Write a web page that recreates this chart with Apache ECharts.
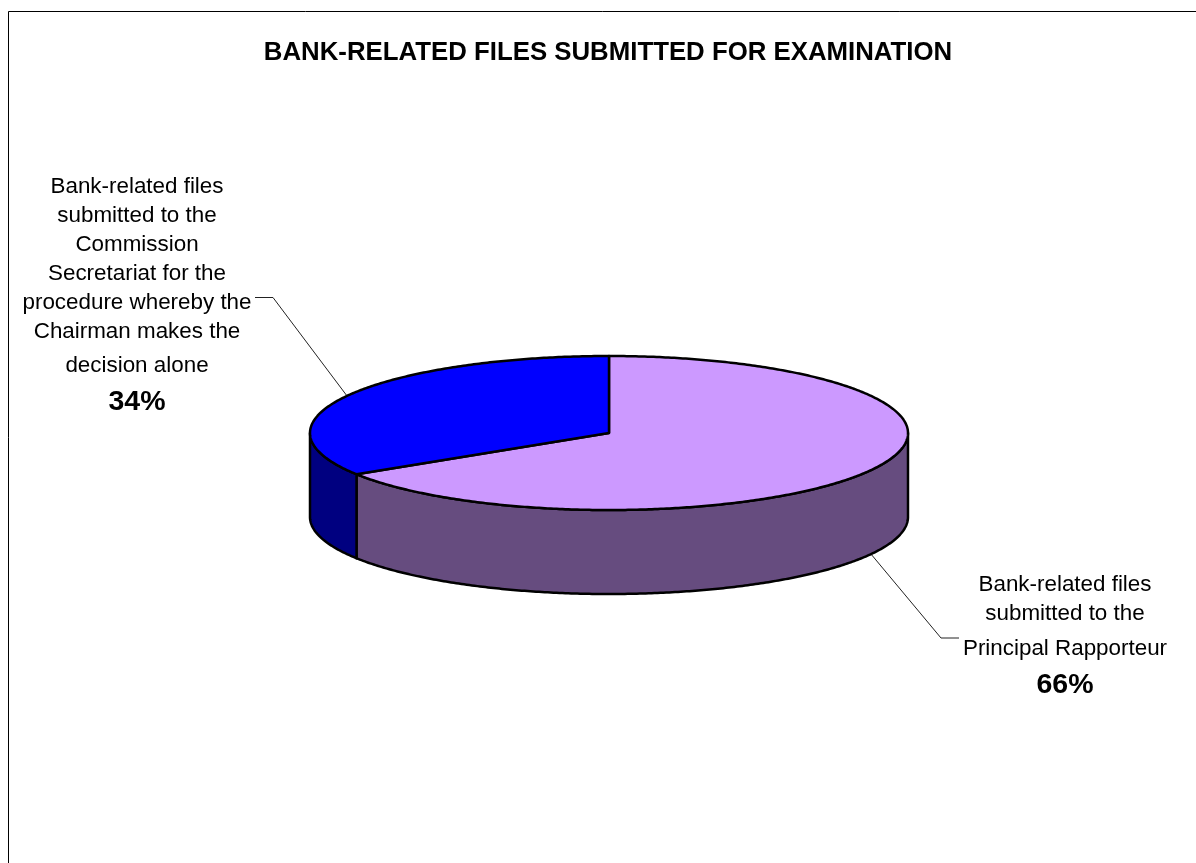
<!DOCTYPE html>
<html>
<head>
<meta charset="utf-8">
<title>Bank-related files submitted for examination</title>
<style>
  html, body { margin: 0; padding: 0; background: #fff; }
  #chart { width: 1196px; height: 863px; }
</style>
<script src="https://cdn.jsdelivr.net/npm/echarts@6/dist/echarts.min.js"></script>
</head>
<body>
<div id="chart"></div>
<script>
// Chart content
const chartTitle = 'BANK-RELATED FILES SUBMITTED FOR EXAMINATION';
const shares = [66, 34];
const categoryLines = [
  ['Bank-related files', 'submitted to the', 'Principal Rapporteur'],
  ['Bank-related files', 'submitted to the', 'Commission', 'Secretariat for the',
   'procedure whereby the', 'Chairman makes the', 'decision alone']
];
const topColors = ['#CC99FF', '#0000FF'];
const sideColors = ['#664C7F', '#000080'];

// Drawing geometry of the tilted disc and its callouts
const disc = { cx: 609, cy: 433, rx: 299, ry: 77, depth: 84 };
const labelBlocks = [
  { x: 1065, lineY: [585, 614, 649], percentY: 685, elbow: [941, 638], tail: 959, onSide: true },
  { x: 137, lineY: [187, 216, 245, 274, 303, 332, 366], percentY: 402, elbow: [273, 297.5], tail: 255, onSide: false }
];

const FONT = '"Liberation Sans", Arial, sans-serif';
const total = shares.reduce((a, b) => a + b, 0);

// Angles are measured clockwise from the back of the disc.
function rimPoint(angle, drop) {
  return [
    disc.cx + disc.rx * Math.sin(angle),
    disc.cy - disc.ry * Math.cos(angle) + drop
  ];
}

function arcPoints(from, to, drop) {
  const steps = Math.max(2, Math.ceil(Math.abs(to - from) / 0.01));
  const pts = [];
  for (let i = 0; i <= steps; i++) {
    pts.push(rimPoint(from + (to - from) * i / steps, drop));
  }
  return pts;
}

function renderSlice(params, api) {
  const i = params.dataIndex;
  const value = api.value(0);
  const before = shares.slice(0, i).reduce((a, b) => a + b, 0);
  const start = before / total * Math.PI * 2;
  const end = (before + value) / total * Math.PI * 2;
  const mid = (start + end) / 2;
  const children = [];
  const outline = { stroke: '#000', lineWidth: 2.5, lineJoin: 'round' };

  // Wall: only the part of the rim facing the viewer is visible.
  const wallFrom = Math.max(start, Math.PI / 2);
  const wallTo = Math.min(end, Math.PI * 1.5);
  if (wallTo > wallFrom) {
    const upper = arcPoints(wallFrom, wallTo, 0);
    const lower = arcPoints(wallTo, wallFrom, disc.depth);
    children.push({
      type: 'polygon',
      shape: { points: upper.concat(lower) },
      style: Object.assign({ fill: sideColors[i] }, outline)
    });
  }

  // Top face
  children.push({
    type: 'polygon',
    shape: { points: [[disc.cx, disc.cy]].concat(arcPoints(start, end, 0)) },
    style: Object.assign({ fill: topColors[i] }, outline)
  });

  // Leader line from the middle of the slice to its label
  const block = labelBlocks[i];
  children.push({
    type: 'polyline',
    z2: -1,
    shape: { points: [rimPoint(mid, block.onSide ? disc.depth : 0), block.elbow, [block.tail, block.elbow[1]]] },
    style: { stroke: '#222', lineWidth: 1, fill: null }
  });

  // Label lines and the percentage underneath
  categoryLines[i].forEach(function (line, n) {
    children.push({
      type: 'text',
      style: {
        text: line, x: block.x, y: block.lineY[n],
        align: 'center', verticalAlign: 'middle',
        font: '22.4px ' + FONT, fill: '#000'
      }
    });
  });
  children.push({
    type: 'text',
    style: {
      text: value + '%', x: block.x, y: block.percentY,
      align: 'center', verticalAlign: 'middle',
      font: 'bold 28.5px ' + FONT, fill: '#000'
    }
  });

  return { type: 'group', children: children };
}

const chart = echarts.init(document.getElementById('chart'), null, { renderer: 'canvas' });
chart.setOption({
  animation: false,
  backgroundColor: '#fff',
  title: {
    text: chartTitle,
    left: 603,
    top: 34.4,
    textAlign: 'center',
    textStyle: { fontFamily: FONT, fontSize: 25.8, fontWeight: 'bold', color: '#000' }
  },
  graphic: [{
    type: 'rect',
    silent: true,
    shape: { x: 8.5, y: 11.5, width: 1300, height: 1000 },
    style: { fill: null, stroke: '#000', lineWidth: 1 }
  }],
  series: [{
    type: 'custom',
    coordinateSystem: 'none',
    silent: true,
    data: shares,
    renderItem: renderSlice
  }]
});
</script>
</body>
</html>
